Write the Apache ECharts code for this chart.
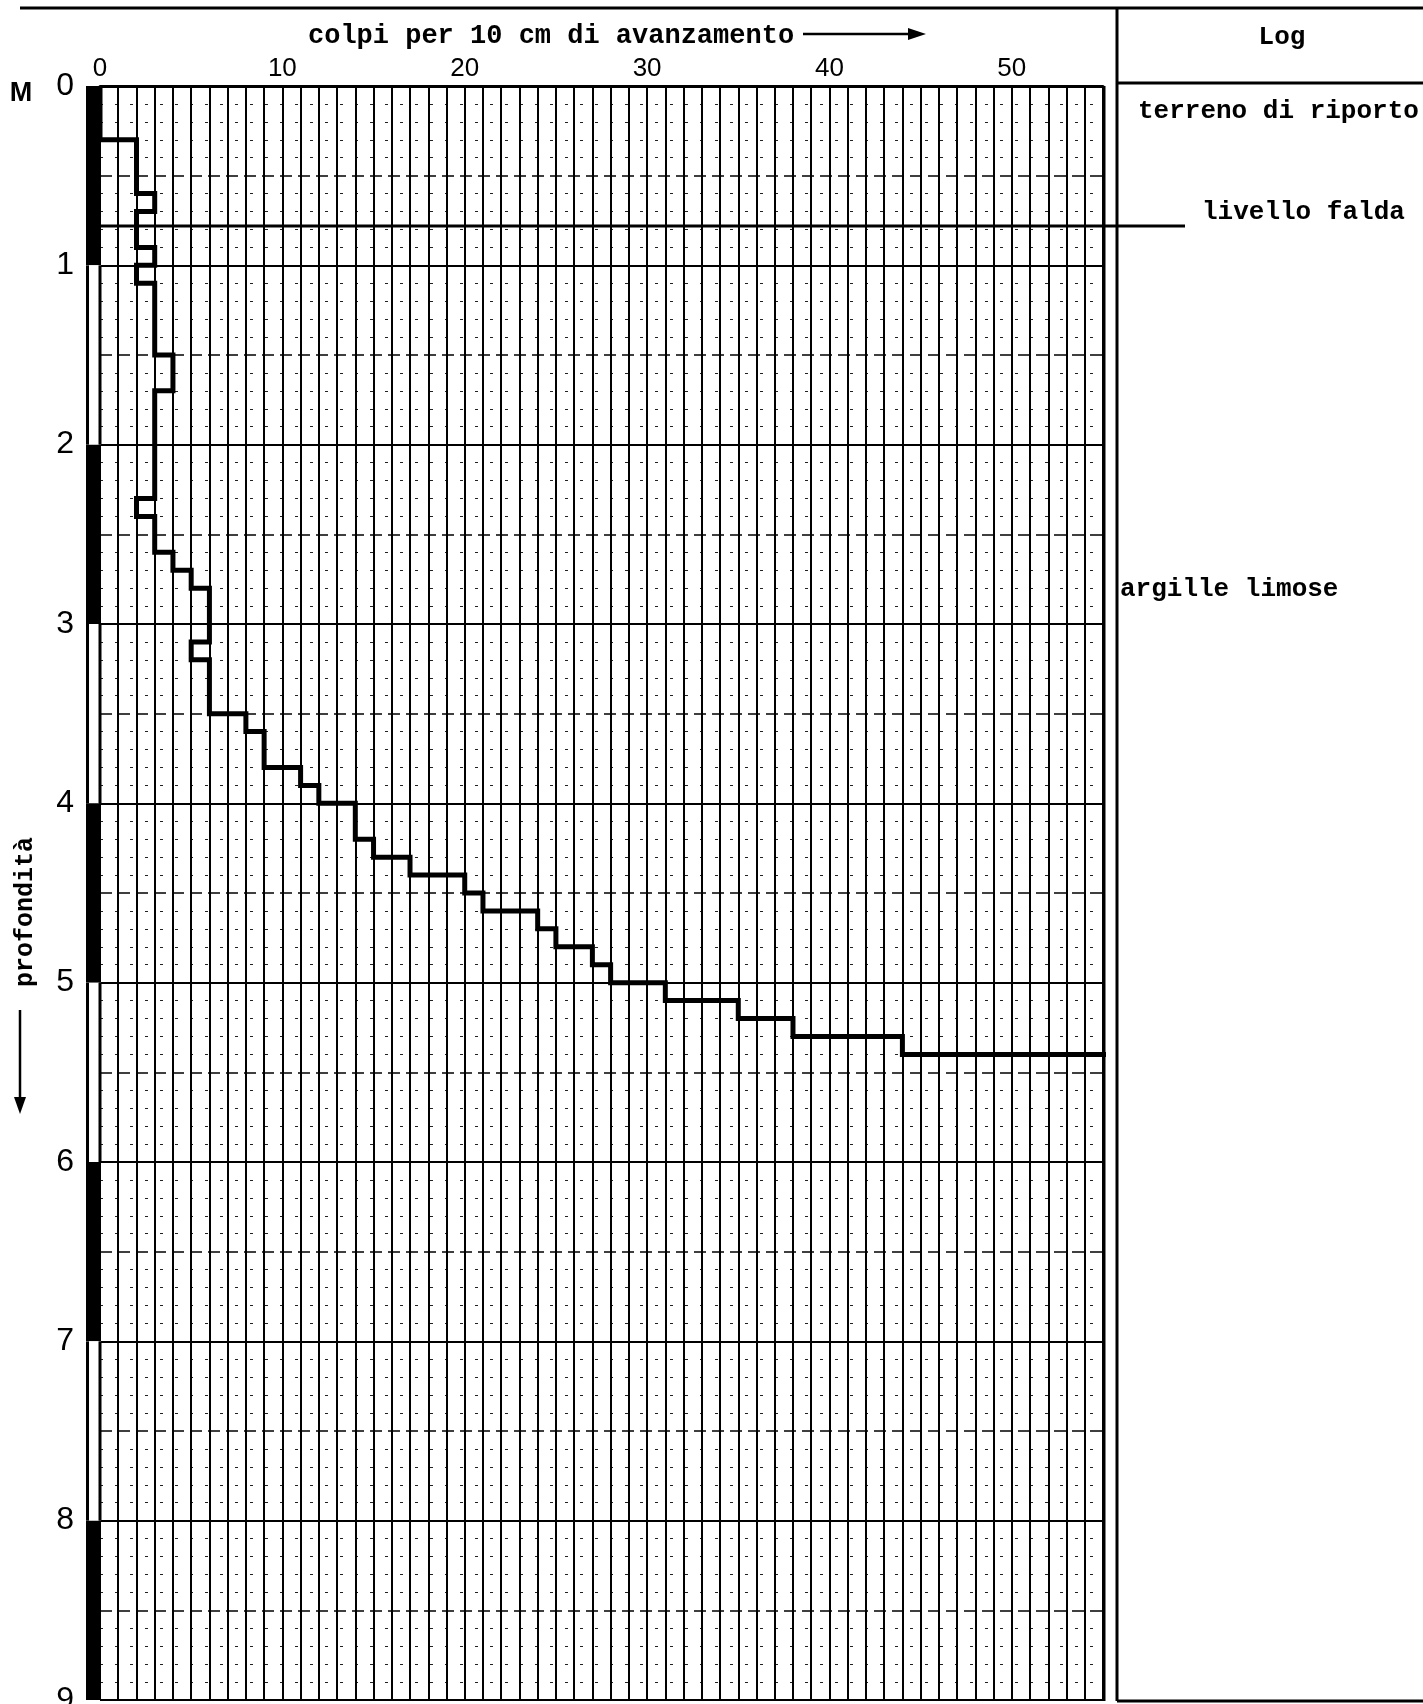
<!DOCTYPE html>
<html><head><meta charset="utf-8">
<script src="https://cdn.jsdelivr.net/npm/echarts@6/dist/echarts.min.js"></script>
<style>html,body{margin:0;padding:0;background:#fff}#c{width:1423px;height:1704px}</style>
</head><body><div id="c"></div>
<script>
// ---- data ----
const blowTicks = [0, 10, 20, 30, 40, 50];
const depthTicks = [0, 1, 2, 3, 4, 5, 6, 7, 8, 9];
// interval boundaries (m) of each 10 cm penetration step
const depthBoundaries = [0.0,0.1,0.2,0.3,0.4,0.5,0.6,0.7,0.8,0.9,1.0,1.1,1.2,1.3,1.4,1.5,1.6,1.7,1.8,1.9,2.0,2.1,2.2,2.3,2.4,2.5,2.6,2.7,2.8,2.9,3.0,3.1,3.2,3.3,3.4,3.5,3.6,3.7,3.8,3.9,4.0,4.1,4.2,4.3,4.4,4.5,4.6,4.7,4.8,4.9,5.0,5.1,5.2,5.3,5.4];
// blows per 10 cm for each interval
const blowsPer10cm = [0,0,0,2,2,2,3,2,2,3,2,3,3,3,3,4,4,3,3,3,3,3,3,2,3,3,4,5,6,6,6,5,6,6,6,8,9,9,11,12,14,14,15,17,20,21,24,25,27,28,31,35,38,44];
// refusal: last step beyond the scale
const refusalDepths = [5.4, 5.5];
const refusalBlows = 58;
// rod drawing (alternating metre segments): [from, to, filled]
const rodSegments = [[0,1,1],[1,2,0],[2,3,1],[3,4,0],[4,5,1],[5,6,0],[6,7,1],[7,8,0],[8,9,1]];
const waterTableDepth = [0.78];
const logLabels = ['terreno di riporto', 'argille limose'];
const waterLabel = 'livello falda';
const xTitle = 'colpi per 10 cm di avanzamento';
const yTitle = 'profondità';
const unitLabel = 'M';
const logTitle = 'Log';

// ---- build step line points ----
const stepPoints = [];
for (let i = 0; i < blowsPer10cm.length; i++) {
  stepPoints.push([blowsPer10cm[i], depthBoundaries[i]]);
  stepPoints.push([blowsPer10cm[i], depthBoundaries[i + 1]]);
}
stepPoints.push([refusalBlows, refusalDepths[0]]);
stepPoints.push([refusalBlows, refusalDepths[1]]);

const mono = "'Liberation Mono', 'DejaVu Sans Mono', monospace";
const sans = "'Liberation Sans', Arial, sans-serif";
const narrow = "'Liberation Sans Narrow', 'Liberation Sans', sans-serif";
const INK = '#000';
const LOG_X = 1117;
const W = 1423;
const ROD_W = 15;

const chart = echarts.init(document.getElementById('c'), null, {renderer: 'canvas'});
chart.setOption({
  backgroundColor: '#fff',
  animation: false,
  grid: {left: 100, top: 86, width: 1003, height: 1614, containLabel: false, outerBoundsMode: 'none'},
  xAxis: [
    {
      type: 'value', position: 'top', min: 0, max: 55, interval: 10,
      axisLine: {show: true, lineStyle: {color: INK, width: 3}},
      axisTick: {show: false},
      axisLabel: {
        show: true, margin: 4, color: INK, fontSize: 26, fontFamily: sans,
        showMaxLabel: false,
        formatter: v => blowTicks.includes(v) ? String(v) : ''
      },
      splitLine: {show: false}
    },
    {
      type: 'value', position: 'top', min: 0, max: 55, interval: 1,
      axisLine: {show: false}, axisTick: {show: false}, axisLabel: {show: false},
      splitLine: {show: true, lineStyle: {color: INK, width: 2}}
    }
  ],
  yAxis: [
    {
      type: 'value', inverse: true, min: 0, max: 9, interval: 1, z: 3,
      axisLine: {show: false}, axisTick: {show: false},
      axisLabel: {
        show: true, margin: 26, color: INK, fontSize: 32, fontFamily: sans,
        formatter: v => depthTicks.includes(v) ? String(v) : ''
      },
      splitLine: {show: true, lineStyle: {color: INK, width: 2}}
    },
    {
      type: 'value', inverse: true, min: 0, max: 9, interval: 0.5, position: 'right',
      axisLine: {show: false}, axisTick: {show: false}, axisLabel: {show: false},
      splitLine: {show: true, lineStyle: {color: INK, width: 1.6, type: [12, 6]}},
      minorTick: {show: false, splitNumber: 5},
      minorSplitLine: {show: true, lineStyle: {color: '#222', width: 1.2, type: [3, 12]}}
    }
  ],
  series: [
    {
      type: 'custom', name: 'rod', xAxisIndex: 0, yAxisIndex: 0, clip: false, z: 4,
      data: rodSegments,
      renderItem: function (params, api) {
        const p0 = api.coord([0, api.value(0)]);
        const p1 = api.coord([0, api.value(1)]);
        const filled = api.value(2) === 1;
        const left = p0[0] - ROD_W + 1;
        const right = p0[0];
        if (filled) {
          return {
            type: 'rect',
            shape: {x: left, y: p0[1], width: ROD_W, height: p1[1] - p0[1]},
            style: {fill: INK}
          };
        }
        return {
          type: 'group',
          children: [
            {type: 'rect', shape: {x: left, y: p0[1], width: ROD_W, height: p1[1] - p0[1]}, style: {fill: '#fff'}},
            {type: 'line', shape: {x1: left + 1.5, y1: p0[1], x2: left + 1.5, y2: p1[1]}, style: {stroke: INK, lineWidth: 3}},
            {type: 'line', shape: {x1: right, y1: p0[1], x2: right, y2: p1[1]}, style: {stroke: INK, lineWidth: 3}}
          ]
        };
      }
    },
    {
      type: 'custom', name: 'falda', xAxisIndex: 0, yAxisIndex: 0, clip: false, z: 4,
      data: waterTableDepth.map(d => [d]),
      renderItem: function (params, api) {
        const p = api.coord([0, api.value(0)]);
        return {
          type: 'line',
          shape: {x1: p[0], y1: p[1], x2: LOG_X + 68, y2: p[1]},
          style: {stroke: INK, lineWidth: 3}
        };
      }
    },
    {
      type: 'line', name: 'colpi', xAxisIndex: 0, yAxisIndex: 0,
      data: stepPoints, showSymbol: false, symbol: 'none', clip: true, z: 5,
      lineStyle: {color: INK, width: 5, join: 'miter', cap: 'butt'}
    }
  ],
  graphic: [
    // frame
    {type: 'line', shape: {x1: 20, y1: 8, x2: W, y2: 8}, style: {stroke: INK, lineWidth: 3}},
    {type: 'line', shape: {x1: LOG_X, y1: 8, x2: LOG_X, y2: 1701}, style: {stroke: INK, lineWidth: 3}},
    {type: 'line', shape: {x1: LOG_X, y1: 83, x2: W, y2: 83}, style: {stroke: INK, lineWidth: 3}},
    {type: 'line', shape: {x1: LOG_X, y1: 1701, x2: W, y2: 1701}, style: {stroke: INK, lineWidth: 3}},
    {type: 'line', shape: {x1: 1104, y1: 86, x2: 1104, y2: 1701}, style: {stroke: INK, lineWidth: 3}},
    // titles
    {type: 'text', x: 308, y: 36, style: {text: xTitle, font: 'bold 27px ' + mono, fill: INK, textAlign: 'left', textVerticalAlign: 'middle'}},
    {type: 'line', shape: {x1: 803, y1: 34, x2: 912, y2: 34}, style: {stroke: INK, lineWidth: 2.5}},
    {type: 'polygon', shape: {points: [[908, 28], [926, 34], [908, 40]]}, style: {fill: INK}},
    {type: 'text', x: 1282, y: 37, style: {text: logTitle, font: 'bold 26px ' + mono, fill: INK, textAlign: 'center', textVerticalAlign: 'middle'}},
    {type: 'text', x: 1138, y: 111, style: {text: logLabels[0], font: 'bold 26px ' + mono, fill: INK, textAlign: 'left', textVerticalAlign: 'middle'}},
    {type: 'text', x: 1202, y: 212, style: {text: waterLabel, font: 'bold 26px ' + mono, fill: INK, textAlign: 'left', textVerticalAlign: 'middle'}},
    {type: 'text', x: 1120, y: 589, style: {text: logLabels[1], font: 'bold 26px ' + mono, fill: INK, textAlign: 'left', textVerticalAlign: 'middle'}},
    {type: 'text', x: 21, y: 94, style: {text: unitLabel, font: 'bold 27px ' + narrow, fill: INK, textAlign: 'center', textVerticalAlign: 'middle'}},
    {type: 'text', x: 26, y: 912, rotation: Math.PI / 2, style: {text: yTitle, font: 'bold 25px ' + mono, fill: INK, textAlign: 'center', textVerticalAlign: 'middle'}},
    {type: 'line', shape: {x1: 20, y1: 1010, x2: 20, y2: 1100}, style: {stroke: INK, lineWidth: 2.5}},
    {type: 'polygon', shape: {points: [[14, 1097], [20, 1114], [26, 1097]]}, style: {fill: INK}}
  ]
});
</script></body></html>
